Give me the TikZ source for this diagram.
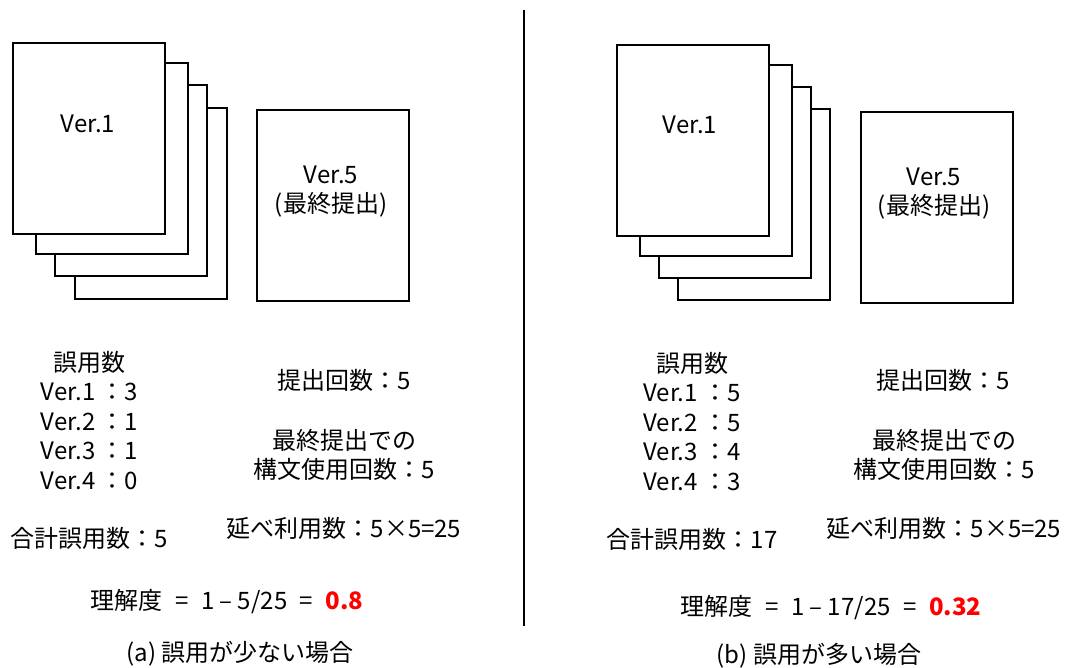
\documentclass[tikz,border=0pt]{standalone}
\usepackage{fontspec}
\setmainfont{Noto Sans CJK JP}
\definecolor{hired}{RGB}{255,0,0}
\newcommand{\eqsp}{\hspace{0.3em}}
\begin{document}
\begin{tikzpicture}[x=1pt,y=-1pt,
  page/.style={draw=black,line width=2pt,fill=white,minimum width=152pt,minimum height=191pt,inner sep=0pt},
  txt/.style={font=\fontsize{24}{29.5}\selectfont,inner sep=0pt,align=center,anchor=center}]
\useasboundingbox (0,0) rectangle (1068,668);
% divider
\coordinate (dtop) at (524,10);
\coordinate (dbot) at (524,626);
\draw[line width=2pt] (dtop) -- (dbot);
% ---------- left panel ----------
\node[page] (a4) at (150.5,203.5) {};
\node[page] (a3) at (131,181) {};
\node[page] (a2) at (111.5,158.5) {};
\node[page] (a1) at (89,138.5) {};
\node[txt] (a1t) at (88,124) {Ver.1};
\node[page] (a5) at (332.5,205.5) {};
\node[txt] (a5t) at (331,191.5) {Ver.5\\(最終提出)};
\node[txt] (ae0) at (89,362) {誤用数};
\node[txt] (ae1) at (89.5,392) {Ver.1 ：3};
\node[txt] (ae2) at (89.5,421.5) {Ver.2 ：1};
\node[txt] (ae3) at (89.5,451) {Ver.3 ：1};
\node[txt] (ae4) at (89.5,480.5) {Ver.4 ：0};
\node[txt] (asum) at (89,538) {合計誤用数：5};
\node[txt] (asub) at (344,380) {提出回数：5};
\node[txt] (ause) at (344,455) {最終提出での\\構文使用回数：5};
\node[txt] (atot) at (344,528) {延べ利用数：5×5=25};
\node[txt] (aeq) at (227,602) {理解度\eqsp{} = \eqsp{}1 – 5/25\eqsp{} = \eqsp{}\textcolor{hired}{\bfseries 0.8}};
\node[txt] (acap) at (240,654) {(a) 誤用が少ない場合};
% ---------- right panel ----------
\node[page] (b4) at (754,205) {};
\node[page] (b3) at (735,183) {};
\node[page] (b2) at (715.5,160.5) {};
\node[page] (b1) at (692.5,140.5) {};
\node[txt] (b1t) at (690,125) {Ver.1};
\node[page] (b5) at (936.5,208) {};
\node[txt] (b5t) at (934,193.5) {Ver.5\\(最終提出)};
\node[txt] (be0) at (692,363) {誤用数};
\node[txt] (be1) at (692,393) {Ver.1 ：5};
\node[txt] (be2) at (692,422.5) {Ver.2 ：5};
\node[txt] (be3) at (692,452) {Ver.3 ：4};
\node[txt] (be4) at (692,481.5) {Ver.4 ：3};
\node[txt] (bsum) at (692,539) {合計誤用数：17};
\node[txt] (bsub) at (943,380) {提出回数：5};
\node[txt] (buse) at (944,455) {最終提出での\\構文使用回数：5};
\node[txt] (btot) at (944,528) {延べ利用数：5×5=25};
\node[txt] (beq) at (831,608) {理解度\eqsp{} = \eqsp{}1 – 17/25\eqsp{} = \eqsp{}\textcolor{hired}{\bfseries 0.32}};
\node[txt] (bcap) at (819,656) {(b) 誤用が多い場合};
\end{tikzpicture}
\end{document}
